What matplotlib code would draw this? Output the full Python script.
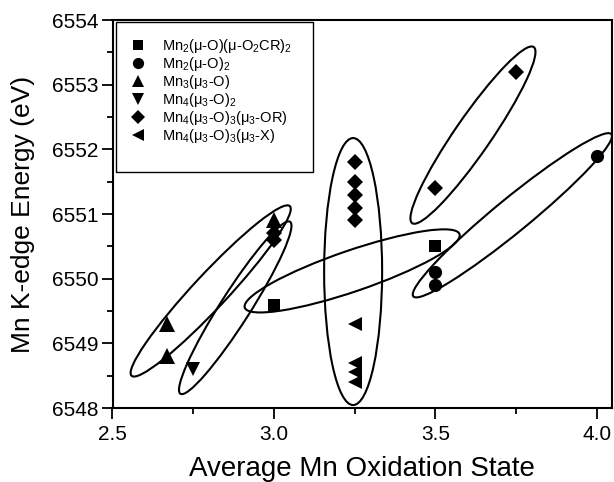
import matplotlib
matplotlib.use("Agg")
import matplotlib.pyplot as plt
from matplotlib import transforms
from matplotlib.patches import Ellipse, Rectangle
from matplotlib.lines import Line2D
from matplotlib.ticker import MultipleLocator, FormatStrFormatter

plt.rcParams['font.family'] = ['Liberation Sans', 'DejaVu Sans']
plt.rcParams['mathtext.fontset'] = 'custom'
plt.rcParams['mathtext.rm'] = 'Liberation Sans'
plt.rcParams['mathtext.it'] = 'Liberation Sans:italic'
plt.rcParams['mathtext.default'] = 'regular'

# ---- data ----
labels = [r"Mn$_2$(μ-O)(μ-O$_2$CR)$_2$",
          r"Mn$_2$(μ-O)$_2$",
          r"Mn$_3$(μ$_3$-O)",
          r"Mn$_4$(μ$_3$-O)$_2$",
          r"Mn$_4$(μ$_3$-O)$_3$(μ$_3$-OR)",
          r"Mn$_4$(μ$_3$-O)$_3$(μ$_3$-X)"]

x_sq = [3.0, 3.5]
y_sq = [6549.6, 6550.5]
x_ci = [3.5, 3.5, 4.0]
y_ci = [6550.1, 6549.9, 6551.9]
x_tu = [2.67, 2.67, 3.0]
y_tu = [6549.3, 6548.8, 6550.9]
x_td = [2.75]
y_td = [6548.6]
x_di = [3.0, 3.0, 3.25, 3.25, 3.25, 3.25, 3.25, 3.5, 3.75]
y_di = [6550.7, 6550.6, 6551.8, 6551.5, 6551.3, 6551.1, 6550.9, 6551.4, 6553.2]
x_tl = [3.25, 3.25, 3.25, 3.25]
y_tl = [6549.3, 6548.7, 6548.55, 6548.4]

# cluster ellipses: centre (data), full width / height (pixels), angle (deg)
ell_cx = [2.804, 2.880, 3.242, 3.245, 3.616, 3.738]
ell_cy = [6549.81, 6549.55, 6550.12, 6550.11, 6552.22, 6550.98]
ell_w = [232, 204, 227, 58, 214, 256]
ell_h = [34, 30, 41, 267, 36, 34]
ell_ang = [47.0, 57.5, 18.9, 0.0, 55.4, 39.3]

xticks = [2.5, 3.0, 3.5, 4.0]
yticks = [6548, 6549, 6550, 6551, 6552, 6553, 6554]

DPI = 100
fig = plt.figure(figsize=(6.14, 4.82), dpi=DPI)
ax = fig.add_axes([112.5 / 614, 74 / 482, 499.5 / 614, 388 / 482])
ax.set_xlim(2.5, 4.0465)
ax.set_ylim(6548, 6554)

series = [
    (x_sq, y_sq, 's', 8.5),
    (x_ci, y_ci, 'o', 9.5),
    (x_tu, y_tu, '^', 11.0),
    (x_td, y_td, 'v', 10.5),
    (x_di, y_di, 'D', 8.3),
    (x_tl, y_tl, '<', 10.5),
]
handles = []
for (xs, ys, m, ms), lab in zip(series, labels):
    ax.plot(xs, ys, linestyle='none', marker=m, ms=ms, color='black',
            markeredgewidth=0, zorder=3, clip_on=False)
    handles.append(Line2D([], [], linestyle='none', marker=m, ms=ms * 0.85,
                          color='black', markeredgewidth=0))

# ellipses drawn in pixel units around data centres
for cx, cy, w, h, a in zip(ell_cx, ell_cy, ell_w, ell_h, ell_ang):
    tr = transforms.Affine2D().scale(1.0 / DPI) + fig.dpi_scale_trans.frozen()
    off = transforms.ScaledTranslation(cx, cy, ax.transData)
    e = Ellipse((0, 0), w, h, angle=a, fill=False, edgecolor='black',
                linewidth=1.5, transform=tr + off, clip_on=False, zorder=2)
    ax.add_patch(e)

ax.set_xticks(xticks)
ax.set_yticks(yticks)
ax.xaxis.set_minor_locator(MultipleLocator(0.25))
ax.yaxis.set_minor_locator(MultipleLocator(0.5))
ax.xaxis.set_major_formatter(FormatStrFormatter('%.1f'))
ax.tick_params(which='major', direction='out', length=8, width=1.3,
               labelsize=15, top=False, right=False)
ax.tick_params(axis='y', which='major', pad=2)
ax.tick_params(axis='x', which='major', pad=4)
ax.tick_params(which='minor', direction='out', length=4, width=1.3,
               top=False, right=False)
for s in ax.spines.values():
    s.set_linewidth(1.5)

ax.set_xlabel('Average Mn Oxidation State', fontsize=20, labelpad=9)
ax.set_ylabel('Mn K-edge Energy (eV)', fontsize=19, labelpad=12)

# legend frame and legend
frame = Rectangle((0.007, 0.608), 0.394, 0.387, transform=ax.transAxes,
                  fill=False, edgecolor='black', linewidth=1.0, zorder=4)
ax.add_patch(frame)
leg = ax.legend(handles, labels, loc='upper left',
                bbox_to_anchor=(0.037, 0.957), frameon=False, fontsize=10.5,
                borderpad=0, handlelength=1.0, handletextpad=1.1,
                labelspacing=0.0, borderaxespad=0)

fig.savefig('out.png', dpi=DPI)
